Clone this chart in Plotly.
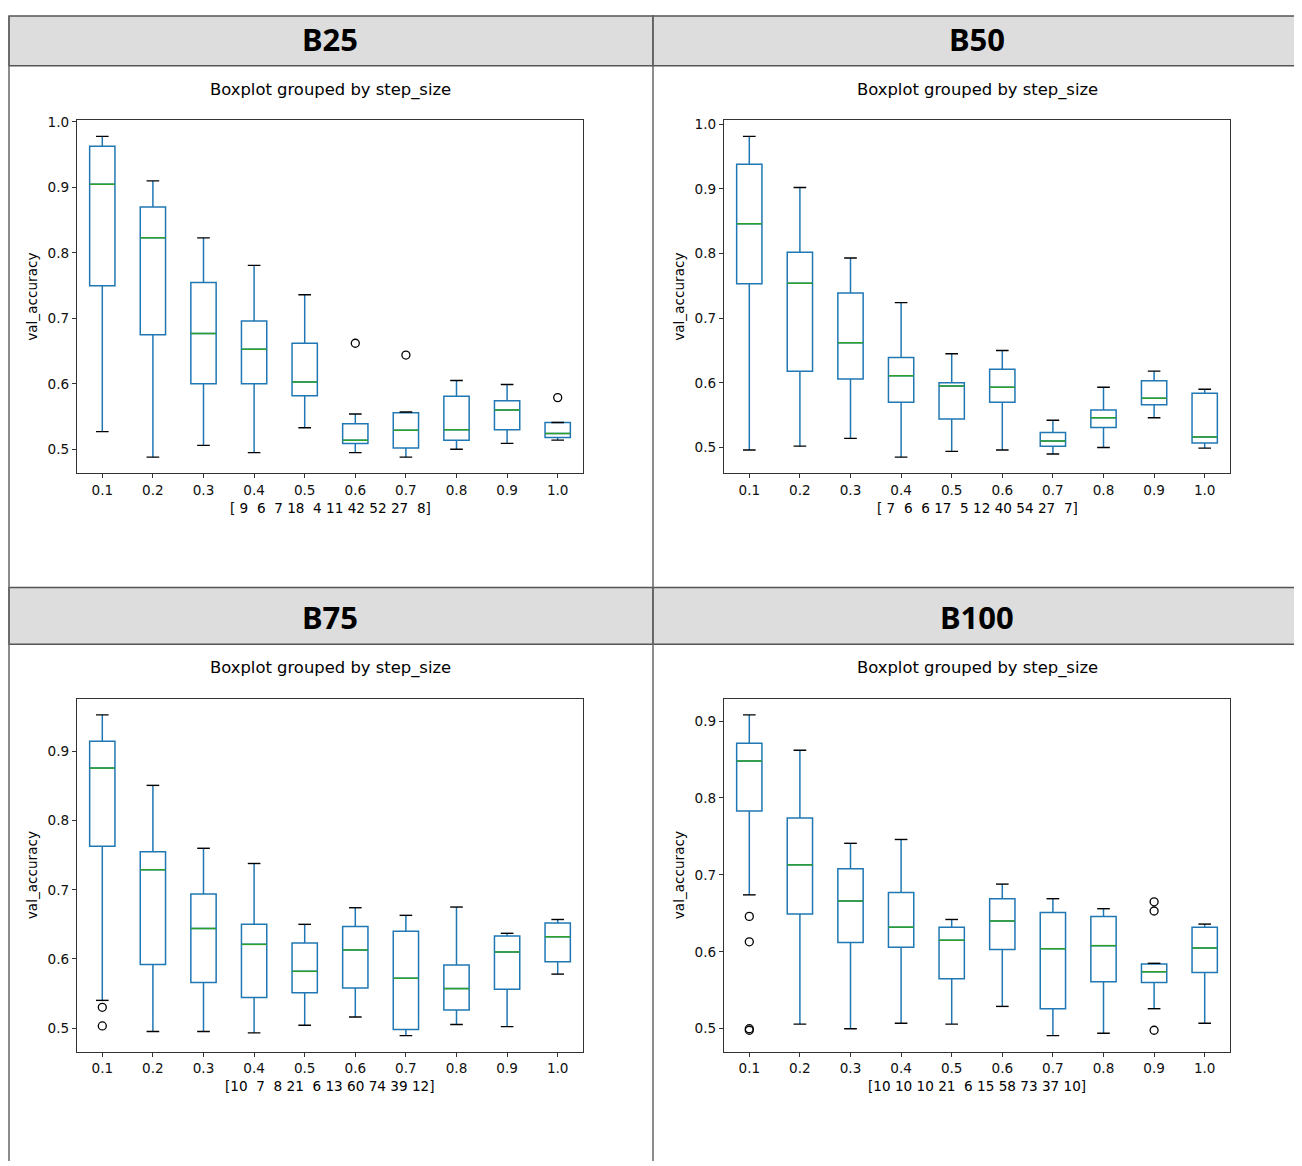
import plotly.graph_objects as go
import numpy as np

# page offset of the plot div inside the browser window (pixels)
OX, OY = 8, 13
W, H = 1302 - OX, 1166 - OY

step_sizes = ["0.1", "0.2", "0.3", "0.4", "0.5", "0.6", "0.7", "0.8", "0.9", "1.0"]
panel_names = ["B25", "B50", "B75", "B100"]

# ---- B25 ----
b25_lower = [0.527, 0.488, 0.506, 0.495, 0.533, 0.495, 0.488, 0.500, 0.509, 0.514]
b25_q1 = [0.750, 0.675, 0.600, 0.600, 0.582, 0.509, 0.502, 0.514, 0.530, 0.518]
b25_med = [0.905, 0.823, 0.677, 0.653, 0.603, 0.514, 0.529, 0.530, 0.560, 0.524]
b25_q3 = [0.963, 0.870, 0.755, 0.696, 0.662, 0.539, 0.556, 0.581, 0.574, 0.541]
b25_upper = [0.978, 0.910, 0.823, 0.781, 0.736, 0.554, 0.557, 0.605, 0.599, 0.541]
b25_out_x = ["0.6", "0.7", "1.0"]
b25_out_y = [0.662, 0.644, 0.579]
b25_counts = [9, 6, 7, 18, 4, 11, 42, 52, 27, 8]

# ---- B50 ----
b50_lower = [0.496, 0.502, 0.514, 0.485, 0.494, 0.496, 0.490, 0.500, 0.546, 0.499]
b50_q1 = [0.753, 0.618, 0.606, 0.570, 0.544, 0.570, 0.502, 0.531, 0.566, 0.507]
b50_med = [0.846, 0.754, 0.662, 0.611, 0.595, 0.593, 0.510, 0.546, 0.576, 0.516]
b50_q3 = [0.938, 0.802, 0.739, 0.639, 0.600, 0.621, 0.523, 0.558, 0.603, 0.584]
b50_upper = [0.981, 0.902, 0.793, 0.724, 0.645, 0.650, 0.542, 0.593, 0.618, 0.590]
b50_out_x = []
b50_out_y = []
b50_counts = [7, 6, 6, 17, 5, 12, 40, 54, 27, 7]

# ---- B75 ----
b75_lower = [0.540, 0.495, 0.495, 0.493, 0.504, 0.516, 0.489, 0.505, 0.502, 0.578]
b75_q1 = [0.763, 0.592, 0.566, 0.544, 0.551, 0.558, 0.498, 0.526, 0.556, 0.596]
b75_med = [0.876, 0.729, 0.644, 0.621, 0.582, 0.613, 0.572, 0.557, 0.610, 0.632]
b75_q3 = [0.915, 0.755, 0.694, 0.650, 0.623, 0.647, 0.640, 0.591, 0.633, 0.652]
b75_upper = [0.953, 0.851, 0.760, 0.738, 0.650, 0.674, 0.663, 0.675, 0.637, 0.657]
b75_out_x = ["0.1", "0.1"]
b75_out_y = [0.530, 0.503]
b75_counts = [10, 7, 8, 21, 6, 13, 60, 74, 39, 12]

# ---- B100 ----
b100_lower = [0.674, 0.506, 0.500, 0.507, 0.506, 0.529, 0.491, 0.494, 0.526, 0.507]
b100_q1 = [0.783, 0.649, 0.612, 0.606, 0.565, 0.603, 0.526, 0.561, 0.560, 0.573]
b100_med = [0.848, 0.713, 0.666, 0.632, 0.615, 0.640, 0.604, 0.608, 0.574, 0.605]
b100_q3 = [0.871, 0.774, 0.708, 0.677, 0.632, 0.669, 0.651, 0.646, 0.584, 0.632]
b100_upper = [0.908, 0.862, 0.741, 0.746, 0.642, 0.688, 0.669, 0.656, 0.585, 0.636]
b100_out_x = ["0.1", "0.1", "0.1", "0.1", "0.9", "0.9", "0.9"]
b100_out_y = [0.646, 0.613, 0.500, 0.498, 0.665, 0.653, 0.498]
b100_counts = [10, 10, 10, 21, 6, 15, 58, 73, 37, 10]

panels = [
    (b25_lower, b25_q1, b25_med, b25_q3, b25_upper, b25_out_x, b25_out_y, b25_counts),
    (b50_lower, b50_q1, b50_med, b50_q3, b50_upper, b50_out_x, b50_out_y, b50_counts),
    (b75_lower, b75_q1, b75_med, b75_q3, b75_upper, b75_out_x, b75_out_y, b75_counts),
    (b100_lower, b100_q1, b100_med, b100_q3, b100_upper, b100_out_x, b100_out_y, b100_counts),
]

BLUE = "#1f77b4"
GREEN = "#2ca02c"
FONT = "DejaVu Sans"
NBSP = "\u00a0"
TICK_SIZE = 13.6
TITLE_SIZE = 16.4


def px(x):
    return (x - OX) / W


def py(y):
    return 1 - (y - OY) / H


# cell geometry (pixels in the window); outer edges clamped to the drawable area
col_x = [6, 653]
col_w = 647
row_top = [7, 589]
header_h = 57
LEFT_EDGE = max(6, OX + 1)
TOP_EDGE = max(7, OY + 1)
RIGHT_EDGE = 1300

fig = go.Figure()
shapes = []
annotations = []

positions = list(range(1, len(step_sizes) + 1))
pos_of = {s: p for s, p in zip(step_sizes, positions)}

for i, (name, data) in enumerate(zip(panel_names, panels)):
    lower, q1, med, q3, upper, out_x, out_y, counts = data
    r, c = divmod(i, 2)
    cx = col_x[c]
    hb = row_top[r] + header_h  # header bottom
    ax_l, ax_r = cx + 71, cx + 577
    ax_t = hb + 55
    ax_b = ax_t + 355
    k = "" if i == 0 else str(i + 1)
    xa, ya = "x" + k, "y" + k

    # header
    rx0 = LEFT_EDGE if c == 0 else cx
    ry0 = TOP_EDGE if r == 0 else row_top[r]
    shapes.append(dict(type="rect", xref="paper", yref="paper",
                       x0=px(rx0), x1=px(min(cx + col_w, RIGHT_EDGE)), y0=py(hb), y1=py(ry0),
                       fillcolor="#dddddd", line=dict(color="#555555", width=1.5), layer="below"))
    annotations.append(dict(text="<b>%s</b>" % name, x=px(cx + col_w / 2), y=py(row_top[r] + 30),
                            xref="paper", yref="paper", showarrow=False,
                            xanchor="center", yanchor="middle",
                            font=dict(family="Noto Sans", size=31, color="#000000")))
    # subplot title
    annotations.append(dict(text="Boxplot grouped by step_size", x=px((ax_l + ax_r) / 2), y=py(hb + 24),
                            xref="paper", yref="paper", showarrow=False,
                            xanchor="center", yanchor="middle",
                            font=dict(family=FONT, size=TITLE_SIZE, color="#000000")))
    # y label
    annotations.append(dict(text="val_accuracy", x=px(cx + 26), y=py((ax_t + ax_b) / 2),
                            xref="paper", yref="paper", showarrow=False, textangle=-90,
                            xanchor="center", yanchor="middle",
                            font=dict(family=FONT, size=TICK_SIZE, color="#000000")))
    # x label: group counts, numpy style
    label = "[" + " ".join("%2d" % n for n in counts) + "]"
    annotations.append(dict(text=label.replace(" ", NBSP), x=px((ax_l + ax_r) / 2), y=py(ax_b + 35),
                            xref="paper", yref="paper", showarrow=False,
                            xanchor="center", yanchor="middle",
                            font=dict(family=FONT, size=TICK_SIZE, color="#000000")))

    # boxes + whiskers
    fig.add_trace(go.Box(x=positions, q1=q1, median=med, q3=q3, lowerfence=lower, upperfence=upper,
                         width=0.5, whiskerwidth=0, boxpoints=False,
                         line=dict(color=BLUE, width=1.5), fillcolor="rgba(255,255,255,0)",
                         xaxis=xa, yaxis=ya, showlegend=False, hoverinfo="skip"))
    # medians (green)
    mx, my = [], []
    for p, m in zip(positions, med):
        mx += [p - 0.25, p + 0.25, None]
        my += [m, m, None]
    fig.add_trace(go.Scatter(x=mx, y=my, mode="lines", line=dict(color=GREEN, width=1.5),
                             xaxis=xa, yaxis=ya, showlegend=False, hoverinfo="skip"))
    # caps (black)
    cxs, cys = [], []
    for p, lo, hi in zip(positions, lower, upper):
        cxs += [p - 0.125, p + 0.125, None, p - 0.125, p + 0.125, None]
        cys += [lo, lo, None, hi, hi, None]
    fig.add_trace(go.Scatter(x=cxs, y=cys, mode="lines", line=dict(color="#000000", width=1.4),
                             xaxis=xa, yaxis=ya, showlegend=False, hoverinfo="skip"))
    # fliers
    if out_x:
        fig.add_trace(go.Scatter(x=[pos_of[s] for s in out_x], y=out_y, mode="markers",
                                 marker=dict(symbol="circle-open", color="#000000", size=8,
                                             line=dict(width=1.3, color="#000000")),
                                 xaxis=xa, yaxis=ya, showlegend=False, hoverinfo="skip"))

    all_vals = lower + upper + out_y
    lo_v, hi_v = min(all_vals), max(all_vals)
    pad = 0.05 * (hi_v - lo_v)

    axis_common = dict(showline=True, mirror=True, linecolor="#333333", linewidth=1.1,
                       ticks="outside", ticklen=4, tickcolor="#333333", tickwidth=1,
                       showgrid=False, zeroline=False,
                       tickfont=dict(family=FONT, size=TICK_SIZE, color="#111111"))
    fig.layout["xaxis" + k] = dict(domain=[px(ax_l), px(ax_r)], range=[0.5, 10.5],
                                   tickmode="array", tickvals=positions, ticktext=step_sizes,
                                   anchor=ya, **axis_common)
    fig.layout["yaxis" + k] = dict(domain=[py(ax_b), py(ax_t)], range=[lo_v - pad, hi_v + pad],
                                   tickmode="linear", tick0=0.5, dtick=0.1, tickformat=".1f",
                                   anchor=xa, **axis_common)

# vertical lines of the outer table
for xv in [LEFT_EDGE, 653, RIGHT_EDGE]:
    shapes.append(dict(type="line", xref="paper", yref="paper", x0=px(xv), x1=px(xv),
                       y0=py(TOP_EDGE), y1=py(1166 + 5), line=dict(color="#666666", width=1.5)))

fig.update_layout(width=W, height=H, margin=dict(l=0, r=0, t=0, b=0),
                  paper_bgcolor="white", plot_bgcolor="white",
                  shapes=shapes, annotations=annotations, showlegend=False)

fig.write_html("out.html")
